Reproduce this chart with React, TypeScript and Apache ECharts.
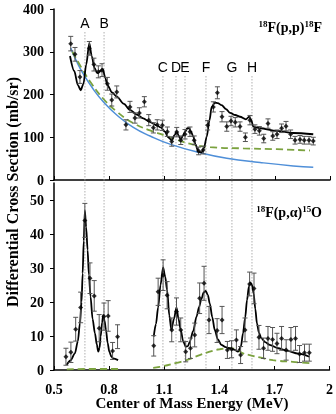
import React, { useEffect, useRef } from 'react';
import * as echarts from 'echarts';

// ---------- data ----------
const X0 = 0.5;
const ppTicks = [0, 100, 200, 300, 400];
const paTicks = [0, 10, 20, 30, 40, 50];

const resonanceLabels = ['A', 'B', 'C', 'D', 'E', 'F', 'G', 'H'];
const resonanceEnergies = [0.668, 0.772, 1.092, 1.163, 1.212, 1.326, 1.467, 1.576];
const resonanceRow = [0, 0, 1, 1, 1, 1, 1, 1];

// 18F(p,p)18F measured points
const ppEnergy = [0.591, 0.614, 0.641, 0.692, 0.717, 0.741, 0.761, 0.79, 0.814, 0.841, 0.891, 0.913, 0.94, 0.964, 0.991, 1.015, 1.04, 1.061, 1.089, 1.116, 1.14, 1.167, 1.189, 1.212, 1.239, 1.262, 1.286, 1.311, 1.335, 1.366, 1.388, 1.413, 1.439, 1.462, 1.485, 1.511, 1.54, 1.565, 1.592, 1.616, 1.64, 1.663, 1.689, 1.712, 1.737, 1.761, 1.786, 1.81, 1.837, 1.86, 1.886, 1.909];
const ppValue = [319, 294, 241, 308, 270, 253, 257, 225, 187, 206, 129, 171, 145, 157, 183, 140, 122, 129, 128, 113, 90, 112, 93, 107, 113, 93, 68, 70, 128, 171, 204, 148, 125, 138, 135, 125, 100, 140, 119, 115, 97, 132, 103, 107, 121, 126, 107, 93, 95, 93, 93, 91];
const ppError = [17, 16, 15, 16, 15, 14, 15, 15, 14, 14, 12, 13, 12, 12, 12, 13, 12, 12, 12, 11, 11, 11, 10, 11, 11, 10, 9, 9, 11, 12, 14, 12, 11, 11, 11, 11, 10, 11, 10, 10, 10, 11, 10, 10, 10, 11, 10, 9, 9, 9, 9, 9];

// 18F(p,p)18F curves
const ppFit = [[0.587, 290], [0.61, 255], [0.63, 222], [0.645, 210], [0.66, 225], [0.675, 270], [0.692, 320], [0.705, 290], [0.72, 262], [0.735, 250], [0.752, 255], [0.765, 260], [0.778, 240], [0.79, 222], [0.815, 205], [0.841, 195], [0.88, 178], [0.913, 164], [0.95, 153], [0.985, 144], [1.02, 136], [1.058, 128], [1.08, 123], [1.103, 113], [1.12, 100], [1.14, 93], [1.155, 105], [1.167, 113], [1.178, 103], [1.189, 95], [1.2, 103], [1.212, 113], [1.225, 121], [1.235, 121], [1.245, 113], [1.257, 101], [1.27, 82], [1.284, 66], [1.302, 64], [1.315, 75], [1.33, 101], [1.345, 140], [1.357, 171], [1.375, 181], [1.39, 180], [1.411, 175], [1.435, 166], [1.457, 157], [1.485, 152], [1.511, 148], [1.543, 142], [1.561, 148], [1.572, 140], [1.583, 125], [1.6, 123], [1.62, 121], [1.71, 115], [1.8, 110], [1.909, 107]];
const ppRutherford = [[0.591, 309], [0.62, 280], [0.659, 248], [0.714, 212], [0.768, 183], [0.841, 152], [0.931, 123], [1.022, 103], [1.13, 84], [1.293, 64], [1.439, 51], [1.62, 41], [1.8, 33], [1.909, 30]];
const ppBackground = [[0.6, 300], [0.65, 262], [0.7, 228], [0.768, 190], [0.841, 160], [0.931, 133], [1.022, 116], [1.103, 104], [1.167, 94], [1.257, 83], [1.348, 77], [1.529, 74], [1.71, 72], [1.891, 69]];

// 18F(p,a)15O measured points
const paEnergy = [0.565, 0.592, 0.618, 0.645, 0.668, 0.696, 0.719, 0.746, 0.772, 0.795, 0.819, 0.846, 1.043, 1.067, 1.094, 1.116, 1.141, 1.167, 1.19, 1.217, 1.243, 1.266, 1.293, 1.317, 1.344, 1.388, 1.415, 1.444, 1.467, 1.493, 1.516, 1.54, 1.565, 1.589, 1.616, 1.641, 1.665, 1.69, 1.714, 1.739, 1.764, 1.79, 1.815, 1.837, 1.864, 1.89];
const paValue = [3.9, 5.2, 12.0, 18.4, 44, 27.0, 21.8, 12.3, 15.7, 15.9, 5.6, 9.8, 7.1, 23, 27.9, 22, 11.8, 17.2, 11.8, 5.4, 6.4, 10.3, 21.1, 25.5, 14.7, 11.6, 14.7, 5.9, 6.1, 8.8, 4.4, 11.8, 25.3, 24.0, 9.6, 6.4, 9.3, 9.0, 7.8, 9.3, 5.9, 9.0, 9.3, 4.7, 5.1, 5.1];
const paError = [2.5, 3, 3.5, 4.5, 5, 4.5, 4.5, 4, 4, 4.5, 2.5, 3.5, 3, 4, 4.5, 4, 3.5, 4, 3.5, 3, 3, 3.5, 4.5, 5, 4, 3.5, 4, 2.5, 2.5, 3, 2.5, 3.5, 3.5, 4.5, 3.5, 3, 3.5, 3.5, 3, 3.5, 3, 3.5, 3.5, 2.5, 2.5, 2.5];

// 18F(p,a)15O curves
const paFitLow = [[0.569, 1.5], [0.59, 2.8], [0.614, 4.9], [0.63, 8.5], [0.641, 13.7], [0.65, 20], [0.656, 28.4], [0.662, 38], [0.668, 46.9], [0.675, 42], [0.683, 35.3], [0.69, 28], [0.699, 21.6], [0.71, 15], [0.723, 10.8], [0.733, 7.5], [0.741, 5.4], [0.748, 6.5], [0.754, 9.8], [0.762, 14], [0.768, 16.2], [0.775, 14.5], [0.783, 11.8], [0.792, 8], [0.801, 5.4], [0.812, 4], [0.822, 3.4], [0.849, 2.9]];
const paFitHigh = [[1.043, 9.8], [1.055, 13.5], [1.067, 18.4], [1.08, 25], [1.094, 30.2], [1.105, 27.5], [1.116, 23.5], [1.128, 16], [1.139, 11.8], [1.153, 15], [1.167, 18.4], [1.178, 15], [1.19, 11.8], [1.203, 8.5], [1.217, 6.9], [1.229, 7], [1.239, 8.3], [1.258, 11.5], [1.276, 15.7], [1.29, 18.5], [1.302, 20.8], [1.315, 22.8], [1.326, 23.3], [1.338, 22], [1.348, 19.6], [1.362, 15.5], [1.375, 11.8], [1.392, 9], [1.411, 7.4], [1.435, 6.7], [1.457, 6.4], [1.48, 6], [1.502, 5.4], [1.518, 7], [1.529, 10.8], [1.541, 15.5], [1.551, 20.6], [1.561, 24.5], [1.569, 25.8], [1.578, 25], [1.587, 22.5], [1.596, 18], [1.605, 13.7], [1.616, 11], [1.629, 9.3], [1.65, 8.2], [1.674, 7.4], [1.72, 6.4], [1.764, 5.7], [1.83, 4.8], [1.891, 3.9]];
const paBackgroundLow = [[0.57, 0.2], [0.7, 0.3], [0.85, 0.3]];
const paBackgroundHigh = [[1.04, 0.6], [1.076, 0.9], [1.167, 2.1], [1.221, 2.9], [1.293, 4.4], [1.348, 5.4], [1.402, 6.1], [1.457, 6.4], [1.49, 6.2], [1.529, 4.9], [1.565, 4.4], [1.62, 3.7], [1.692, 2.9], [1.8, 2.4], [1.891, 2.0]];

// ---------- helpers ----------
const SERIF = '"Liberation Serif", "Times New Roman", serif';
const SANS = '"Liberation Sans", Arial, sans-serif';
const shift = (pairs: number[][]) => pairs.map(([e, v]) => [e - X0, v]);

function errorBars(energy: number[], value: number[], err: number[], axis: number) {
  return {
    type: 'custom',
    xAxisIndex: axis,
    yAxisIndex: axis,
    z: 4,
    data: energy.map((e, i) => [e - X0, value[i] - err[i], value[i] + err[i]]),
    encode: { x: 0, y: [1, 2] },
    renderItem: (_p: any, api: any) => {
      const x = api.value(0);
      const lo = api.coord([x, api.value(1)]);
      const hi = api.coord([x, api.value(2)]);
      const w = 2.5;
      const st = { stroke: '#555', lineWidth: 1 };
      return {
        type: 'group',
        children: [
          { type: 'line', shape: { x1: lo[0], y1: lo[1], x2: hi[0], y2: hi[1] }, style: st },
          { type: 'line', shape: { x1: lo[0] - w, y1: lo[1], x2: lo[0] + w, y2: lo[1] }, style: st },
          { type: 'line', shape: { x1: hi[0] - w, y1: hi[1], x2: hi[0] + w, y2: hi[1] }, style: st },
        ],
      };
    },
  };
}

function points(energy: number[], value: number[], axis: number) {
  return {
    type: 'scatter',
    xAxisIndex: axis,
    yAxisIndex: axis,
    z: 5,
    symbol: 'diamond',
    symbolSize: 5,
    itemStyle: { color: '#000' },
    data: energy.map((e, i) => [e - X0, value[i]]),
  };
}

function curve(data: number[][], axis: number, color: string, width: number, dashed = false, smooth: any = 0.3, monotone = true) {
  return {
    type: 'line',
    xAxisIndex: axis,
    yAxisIndex: axis,
    z: 3,
    showSymbol: false,
    symbol: 'none',
    smooth,
    smoothMonotone: monotone ? 'x' : undefined,
    lineStyle: { color, width, type: dashed ? [7, 4] : 'solid' },
    data: shift(data),
  };
}

const xFormatter = (u: number) => String(Math.round((u + X0) * 10) / 10);

function xAxis(grid: number, labels: boolean) {
  return {
    type: 'value',
    gridIndex: grid,
    min: 0,
    max: 1.5,
    interval: 0.3,
    axisLine: { show: true, lineStyle: { color: '#000', width: 1.5 } },
    axisTick: { show: true, inside: true, length: 4, lineStyle: { color: '#000', width: 1 } },
    splitLine: { show: false },
    axisLabel: {
      show: labels,
      margin: 12,
      color: '#000',
      fontFamily: SERIF,
      fontWeight: 'bold',
      fontSize: 14,
      formatter: xFormatter,
    },
  };
}

function yAxis(grid: number, max: number, interval: number, ticks: number[]) {
  return {
    type: 'value',
    gridIndex: grid,
    min: 0,
    max,
    interval,
    axisLine: { show: true, lineStyle: { color: '#000', width: 1.5 } },
    axisTick: { show: true, length: 4, lineStyle: { color: '#000', width: 1 }, customValues: ticks },
    splitLine: { show: false },
    axisLabel: {
      margin: 10,
      color: '#000',
      fontFamily: SERIF,
      fontWeight: 'bold',
      fontSize: 14,
      customValues: ticks,
    },
  };
}

export default function App() {
  const ref = useRef<HTMLDivElement>(null);
  useEffect(() => {
    if (!ref.current) return;
    const chart = echarts.init(ref.current, undefined, { renderer: 'svg' });

    const resonanceSeries = {
      type: 'custom',
      xAxisIndex: 2,
      yAxisIndex: 2,
      z: 1,
      data: resonanceEnergies.map((e, i) => [e - X0, resonanceRow[i], i]),
      renderItem: (_p: any, api: any) => {
        const x = api.value(0);
        const row = api.value(1);
        const idx = api.value(2);
        const top = api.coord([x, 1]);
        const bottom = api.coord([x, 0]);
        const textY = top[1] + (row === 0 ? 14 : 58);
        return {
          type: 'group',
          children: [
            {
              type: 'line',
              shape: { x1: top[0], y1: textY + 9, x2: bottom[0], y2: bottom[1] },
              style: { stroke: '#9a9a9a', lineWidth: 0.8, lineDash: [1.5, 1.5] },
            },
            {
              type: 'text',
              x: top[0],
              y: textY,
              style: {
                text: resonanceLabels[idx],
                fill: '#000',
                font: `14px ${SANS}`,
                align: 'center',
                verticalAlign: 'middle',
                textAlign: 'center',
                textVerticalAlign: 'middle',
              },
            },
          ],
        };
      },
    };

    const rich = {
      s: { fontSize: 9, fontFamily: SERIF, fontWeight: 'bold', verticalAlign: 'top', lineHeight: 10, fill: '#000', color: '#000' },
      m: { fontSize: 14, fontFamily: SERIF, fontWeight: 'bold', lineHeight: 16, fill: '#000', color: '#000' },
    };

    chart.setOption({
      animation: false,
      grid: [
        { left: 54, right: 6, top: 9, height: 171 },
        { left: 54, right: 6, top: 183, bottom: 44 },
        { left: 54, right: 6, top: 9, bottom: 44 },
      ],
      xAxis: [
        xAxis(0, false),
        xAxis(1, true),
        { type: 'value', gridIndex: 2, min: 0, max: 1.5, show: false },
      ],
      yAxis: [
        yAxis(0, 400, 100, ppTicks),
        yAxis(1, 55, 10, paTicks),
        { type: 'value', gridIndex: 2, min: 0, max: 1, show: false },
      ],
      graphic: [
        {
          type: 'text',
          x: 12,
          y: 192,
          rotation: Math.PI / 2,
          style: {
            text: 'Differential Cross Section (mb/sr)',
            font: `bold 16px ${SERIF}`,
            fill: '#000',
            align: 'center',
            verticalAlign: 'middle',
          },
        },
        {
          type: 'text',
          x: 192,
          y: 403,
          style: {
            text: 'Center of Mass Energy (MeV)',
            font: `bold 15px ${SERIF}`,
            fill: '#000',
            align: 'center',
            verticalAlign: 'middle',
          },
        },
        {
          type: 'text',
          x: 322,
          y: 27,
          style: { text: '{s|18}{m|F(p,p)}{s|18}{m|F}', rich, align: 'right', verticalAlign: 'middle' },
        },
        {
          type: 'text',
          x: 322,
          y: 212,
          style: { text: '{s|18}{m|F(p,α)}{s|15}{m|O}', rich, align: 'right', verticalAlign: 'middle' },
        },
      ],
      series: [
        resonanceSeries,
        curve(ppRutherford, 0, '#4f8fd8', 1.5, false, true, false),
        curve(ppBackground, 0, '#7ba23f', 1.8, true, true, false),
        curve(ppFit, 0, '#000', 1.8),
        errorBars(ppEnergy, ppValue, ppError, 0),
        points(ppEnergy, ppValue, 0),
        curve(paBackgroundLow, 1, '#7ba23f', 1.8, true, true, false),
        curve(paBackgroundHigh, 1, '#7ba23f', 1.8, true, true, false),
        curve(paFitLow, 1, '#000', 1.8),
        curve(paFitHigh, 1, '#000', 1.8),
        errorBars(paEnergy, paValue, paError, 1),
        points(paEnergy, paValue, 1),
      ],
    });
    return () => chart.dispose();
  }, []);
  return <div ref={ref} style={{ position: 'fixed', left: 0, top: 0, width: 336, height: 414 }} />;
}
